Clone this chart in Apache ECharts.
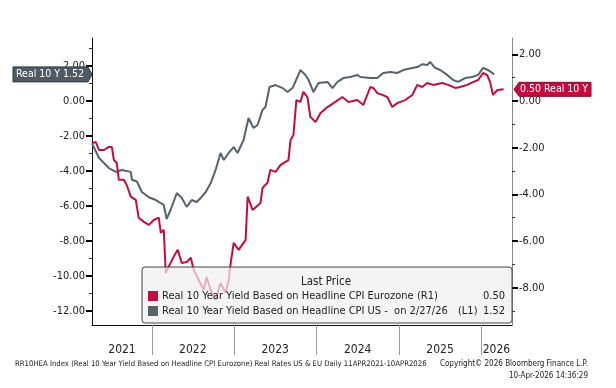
<!DOCTYPE html>
<html><head><meta charset="utf-8">
<script src="https://cdn.jsdelivr.net/npm/echarts@6/dist/echarts.min.js"></script>
<style>html,body{margin:0;padding:0;background:#fff}#c{width:616px;height:388px}</style>
</head><body><div id="c"></div>
<script>
// US real 10Y yield (left axis, L1)
const usDates = ['2021-04-11','2021-05-12','2021-06-03','2021-06-25','2021-07-26','2021-08-21','2021-09-30','2021-10-05','2021-10-27','2021-11-18','2021-12-19','2022-01-19','2022-02-10','2022-02-23','2022-03-08','2022-03-26','2022-04-22','2022-05-14','2022-06-05','2022-06-27','2022-07-19','2022-08-06','2022-08-28','2022-09-19','2022-10-11','2022-11-02','2022-11-16','2022-12-08','2022-12-30','2023-01-16','2023-02-12','2023-03-06','2023-03-28','2023-04-15','2023-05-07','2023-05-20','2023-06-07','2023-07-04','2023-08-04','2023-08-26','2023-09-17','2023-10-09','2023-10-22','2023-11-13','2023-11-27','2023-12-19','2024-01-10','2024-02-19','2024-03-12','2024-04-03','2024-04-29','2024-05-30','2024-06-30','2024-07-14','2024-08-27','2024-09-27','2024-10-23','2024-11-23','2024-12-24','2025-01-20','2025-03-01','2025-03-23','2025-04-14','2025-05-06','2025-05-19','2025-06-10','2025-07-03','2025-08-03','2025-08-29','2025-09-20','2025-10-21','2025-11-21','2025-12-18','2026-01-09','2026-01-31','2026-02-27'];
const usValues = [-2.42,-3.26,-3.54,-3.83,-4.05,-3.94,-4.05,-4.5,-4.6,-5.2,-5.5,-5.66,-5.83,-5.94,-6.74,-6.2,-5.26,-5.54,-6.05,-5.66,-5.77,-5.54,-5.2,-4.7,-3.94,-2.97,-3.37,-2.97,-2.63,-2.97,-2.23,-0.97,-1.54,-1.37,-0.51,-0.34,0.8,0.91,0.74,0.51,0.74,1.37,1.77,1.49,1.2,0.51,1.03,1.09,0.74,1.09,1.31,1.37,1.49,1.37,1.31,1.31,1.6,1.66,1.6,1.77,1.89,1.94,2.1,2.06,2.23,1.89,1.77,1.49,1.2,1.09,1.31,1.37,1.49,1.89,1.77,1.52];
// Eurozone real 10Y yield (right axis, R1)
const euDates = ['2021-04-11','2021-04-28','2021-05-12','2021-06-03','2021-06-25','2021-07-08','2021-07-17','2021-07-30','2021-08-08','2021-08-30','2021-09-12','2021-09-30','2021-10-22','2021-11-04','2021-11-27','2021-12-19','2022-01-10','2022-02-01','2022-02-10','2022-02-23','2022-03-04','2022-03-17','2022-04-08','2022-04-26','2022-05-14','2022-06-05','2022-06-23','2022-07-06','2022-07-28','2022-08-19','2022-09-01','2022-09-19','2022-10-11','2022-11-02','2022-11-24','2022-12-08','2022-12-17','2022-12-30','2023-01-21','2023-02-21','2023-03-02','2023-03-24','2023-04-28','2023-05-07','2023-05-29','2023-06-11','2023-07-04','2023-07-26','2023-08-17','2023-08-30','2023-09-08','2023-09-21','2023-10-04','2023-10-22','2023-11-04','2023-11-22','2023-12-05','2023-12-28','2024-01-19','2024-02-19','2024-03-25','2024-04-25','2024-05-22','2024-06-30','2024-07-27','2024-08-27','2024-09-09','2024-09-27','2024-10-19','2024-11-10','2024-12-02','2024-12-24','2025-01-29','2025-03-01','2025-03-23','2025-04-14','2025-05-06','2025-06-02','2025-07-11','2025-08-07','2025-09-07','2025-09-29','2025-10-30','2025-11-25','2025-12-18','2026-01-09','2026-01-27','2026-02-09','2026-02-22','2026-03-13','2026-04-10'];
const euValues = [-1.8,-1.76,-2.1,-2.1,-1.97,-1.97,-2.53,-2.66,-3.38,-3.38,-3.6,-4.1,-4.24,-5.0,-5.18,-5.31,-5.1,-5.0,-5.65,-5.52,-7.37,-7.1,-6.68,-6.38,-6.94,-6.9,-6.72,-7.24,-7.67,-8.1,-7.54,-8.1,-8.52,-7.8,-8.22,-7.67,-6.94,-6.08,-6.38,-5.95,-4.1,-4.67,-4.37,-3.73,-3.5,-2.95,-3.04,-2.74,-2.61,-2.53,-1.67,-1.46,0.04,-0.04,0.39,0.17,-0.68,-0.9,-0.51,-0.26,-0.04,0.17,-0.04,0.04,-0.17,0.6,0.56,0.34,0.26,0.17,-0.26,-0.09,0.04,0.26,0.69,0.6,0.77,0.69,0.77,0.69,0.56,0.6,0.69,0.81,0.9,1.2,1.11,0.81,0.26,0.47,0.50];

const leftTicks = [-12,-10,-8,-6,-4,-2,0,2];
const leftMinor = [-11,-9,-7,-5,-3,-1,1,3];
const rightTicks = [-8,-6,-4,-2,0,2];
const rightMinor = [-9,-7,-5,-3,-1,1];
const yearTicks = ['2022-01-01','2023-01-01','2024-01-01','2025-01-01','2026-01-01'];
const yearLabelPos = ['2021-08-22','2022-07-02','2023-07-02','2024-07-02','2025-07-02','2026-03-09'];
const yearLabels = ['2021','2022','2023','2024','2025','2026'];

const RED = '#c50c40', GRAY = '#56636c';
const FONT = '"DejaVu Sans Condensed", "Liberation Sans", sans-serif';
const ts = s => new Date(s + 'T00:00:00Z').getTime();
const labelTs = yearLabelPos.map(ts);

const chart = echarts.init(document.getElementById('c'), null, {renderer: 'canvas'});
const yBase = (pos, min, max, ticks) => ({
  type: 'value', position: pos, min: min, max: max, splitLine: {show: false},
  axisLine: {show: true, onZero: false, lineStyle: {color: pos === 'left' ? '#111' : '#888', width: 1}},
  axisTick: {show: true, customValues: ticks, length: 6, lineStyle: {color: '#000', width: 2}},
  axisLabel: {show: true, customValues: ticks, formatter: v => Number(v).toFixed(2), color: '#222', fontSize: 11, fontFamily: FONT, margin: 7}
});
const yMinor = (pos, min, max, ticks) => ({
  type: 'value', position: pos, min: min, max: max, splitLine: {show: false},
  axisLine: {show: false}, axisLabel: {show: false},
  axisTick: {show: true, customValues: ticks, length: 3, lineStyle: {color: '#333', width: 1}}
});

chart.setOption({
  animation: false,
  grid: {left: 92, right: 104, top: 38, bottom: 63, containLabel: false},
  xAxis: {
    type: 'value', min: ts('2021-04-11'), max: ts('2026-05-17'),
    axisLine: {show: true, onZero: false, lineStyle: {color: '#111', width: 1}},
    axisTick: {show: true, customValues: yearTicks.map(ts), length: 30, lineStyle: {color: '#999', width: 1}},
    axisLabel: {show: true, customValues: labelTs, formatter: v => yearLabels[labelTs.indexOf(v)] || '', color: '#222', fontSize: 12, fontFamily: FONT, margin: 19},
    splitLine: {show: false}
  },
  yAxis: [
    yBase('left', -12.8, 3.6, leftTicks),
    yBase('right', -9.6, 2.7, rightTicks),
    yMinor('left', -12.8, 3.6, leftMinor),
    yMinor('right', -9.6, 2.7, rightMinor)
  ],
  series: [
    {name: 'US', type: 'line', yAxisIndex: 0, showSymbol: false, symbol: 'none',
     data: usDates.map((d, i) => [ts(d), usValues[i]]), lineStyle: {color: GRAY, width: 2}, z: 3},
    {name: 'EU', type: 'line', yAxisIndex: 1, showSymbol: false, symbol: 'none',
     data: euDates.map((d, i) => [ts(d), euValues[i]]), lineStyle: {color: RED, width: 2}, z: 4}
  ]
});

const lastUS = usValues[usValues.length - 1];
const lastEU = euValues[euValues.length - 1];
const yUS = chart.convertToPixel({yAxisIndex: 0}, lastUS);
const yEU = chart.convertToPixel({yAxisIndex: 1}, lastEU);

const bx = 142, by = 267, bw = 370, bh = 56;
const legendTxt = (x, y, text, align) => ({type: 'text', z: 91, x: x, y: y,
  style: {text: text, fill: '#222', fontSize: 11, fontFamily: FONT, align: align || 'left', verticalAlign: 'middle'}});
chart.setOption({
  graphic: [
    {type: 'polygon', z: 100, shape: {points: [[13, yUS - 7.5], [88, yUS - 7.5], [92, yUS], [88, yUS + 7.5], [13, yUS + 7.5]]},
     style: {fill: '#4e5b64', stroke: '#2f383e', lineWidth: 1}},
    {type: 'text', z: 101, x: 16, y: yUS, style: {text: 'Real 10 Y ' + lastUS.toFixed(2), fill: '#fff', fontSize: 10.5, fontFamily: FONT, verticalAlign: 'middle'}},
    {type: 'polygon', z: 100, shape: {points: [[514, yEU], [519, yEU - 7], [591, yEU - 7], [591, yEU + 7], [519, yEU + 7]]},
     style: {fill: RED, stroke: '#8a0a2c', lineWidth: 1}},
    {type: 'text', z: 101, x: 520, y: yEU, style: {text: lastEU.toFixed(2) + ' Real 10 Y', fill: '#fff', fontSize: 10.5, fontFamily: FONT, verticalAlign: 'middle'}},
    {type: 'rect', z: 90, shape: {x: bx, y: by, width: bw, height: bh, r: 3},
     style: {fill: 'rgba(240,240,240,0.72)', stroke: '#444', lineWidth: 1}},
    {type: 'text', z: 91, x: 326, y: 282, style: {text: 'Last Price', fill: '#222', fontSize: 11.5, fontFamily: FONT, align: 'center', verticalAlign: 'middle'}},
    {type: 'rect', z: 91, shape: {x: 148, y: 291, width: 10, height: 10}, style: {fill: RED}},
    {type: 'rect', z: 91, shape: {x: 148, y: 306, width: 10, height: 10}, style: {fill: GRAY}},
    legendTxt(162, 296.5, 'Real 10 Year Yield Based on Headline CPI Eurozone'),
    legendTxt(417, 296.5, '(R1)'),
    legendTxt(505, 296.5, lastEU.toFixed(2), 'right'),
    legendTxt(162, 311, 'Real 10 Year Yield Based on Headline CPI US -  on 2/27/26'),
    legendTxt(458, 311, '(L1)'),
    legendTxt(505, 311, lastUS.toFixed(2), 'right'),
    {type: 'text', z: 91, x: 15, y: 364, style: {text: 'RR10HEA Index (Real 10 Year Yield Based on Headline CPI Eurozone) Real Rates US & EU Daily 11APR2021-10APR2026', fill: '#222', fontSize: 7.7, fontFamily: FONT, verticalAlign: 'middle'}},
    {type: 'text', z: 91, x: 588, y: 364, style: {text: 'Copyright\u00a9 2026 Bloomberg Finance L.P.', fill: '#222', fontSize: 8, fontFamily: FONT, align: 'right', verticalAlign: 'middle'}},
    {type: 'text', z: 91, x: 588, y: 376, style: {text: '10-Apr-2026 14:36:29', fill: '#222', fontSize: 8, fontFamily: FONT, align: 'right', verticalAlign: 'middle'}}
  ]
});
</script></body></html>
